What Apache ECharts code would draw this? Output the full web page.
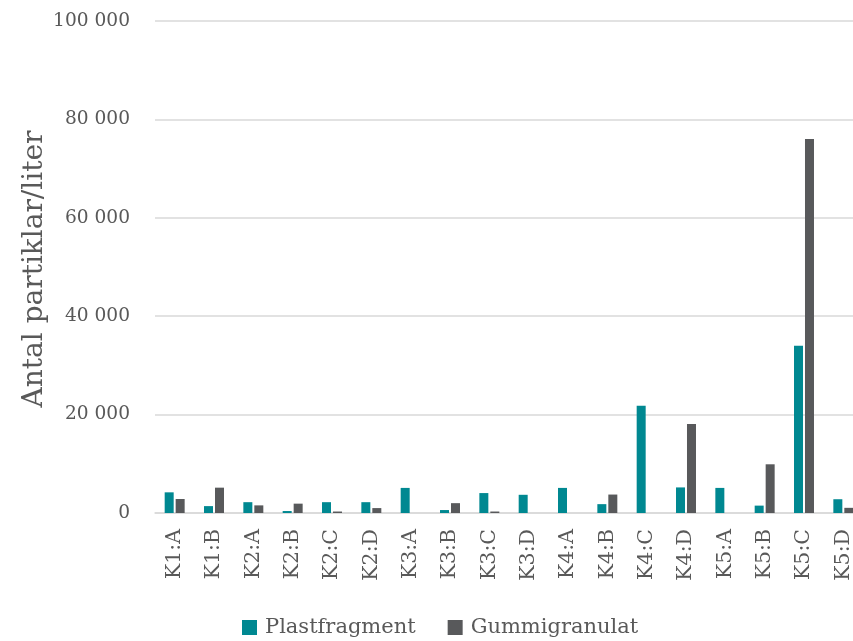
<!DOCTYPE html>
<html><head><meta charset="utf-8">
<script src="https://cdn.jsdelivr.net/npm/echarts@6/dist/echarts.min.js"></script>
<style>html,body{margin:0;padding:0;background:#fff}#c{width:853px;height:641px}</style>
</head><body><div id="c"></div>
<script>
const categories = ["K1:A","K1:B","K2:A","K2:B","K2:C","K2:D","K3:A","K3:B","K3:C","K3:D","K4:A","K4:B","K4:C","K4:D","K5:A","K5:B","K5:C","K5:D"];
const plastfragment = [4200,1400,2200,400,2200,2200,5100,600,4050,3700,5100,1800,21800,5200,5100,1500,34000,2800];
const gummigranulat = [2850,5150,1550,1900,300,1000,0,2000,300,0,0,3750,0,18100,0,9900,76000,1050];
const yTicks = {min:0, max:100000, interval:20000};
const serif = "'DejaVu Serif', 'Liberation Serif', serif";
const chart = echarts.init(document.getElementById('c'));
chart.setOption({
  animation:false,
  grid:{left:155, width:708, top:21, height:492, containLabel:false, outerBoundsMode:'none'},
  legend:{top:612, left:237, itemWidth:15, itemHeight:15, itemGap:32, icon:'rect',
    textStyle:{fontFamily:serif, fontSize:21, color:'#595959', padding:[0,0,0,3]},
    data:['Plastfragment','Gummigranulat']},
  graphic:[{type:'text', x:35, y:269, rotation:Math.PI/2,
    style:{text:'Antal partiklar/liter', font:"28px "+serif, fill:'#595959', textAlign:'center', textVerticalAlign:'middle'}}],
  xAxis:{type:'category', data:categories,
    axisLine:{lineStyle:{color:'#d9d9d9', width:1.5}}, axisTick:{show:false},
    axisLabel:{rotate:90, interval:0, margin:16, fontFamily:serif, fontSize:20.5, color:'#595959'}},
  yAxis:{type:'value', min:yTicks.min, max:yTicks.max, interval:yTicks.interval,
    axisLine:{show:false}, axisTick:{show:false},
    splitLine:{lineStyle:{color:'#d9d9d9', width:1.5}},
    axisLabel:{margin:25, fontFamily:serif, fontSize:18.6, color:'#595959',
      formatter:v=>v===0?'0':String(v).replace(/\B(?=(\d{3})+(?!\d))/g,' ')}},
  series:[
    {name:'Plastfragment', type:'bar', data:plastfragment, barWidth:9, barGap:'22%', itemStyle:{color:'#008891'}},
    {name:'Gummigranulat', type:'bar', data:gummigranulat, barWidth:9, itemStyle:{color:'#58595b'}}
  ]
});
</script></body></html>
